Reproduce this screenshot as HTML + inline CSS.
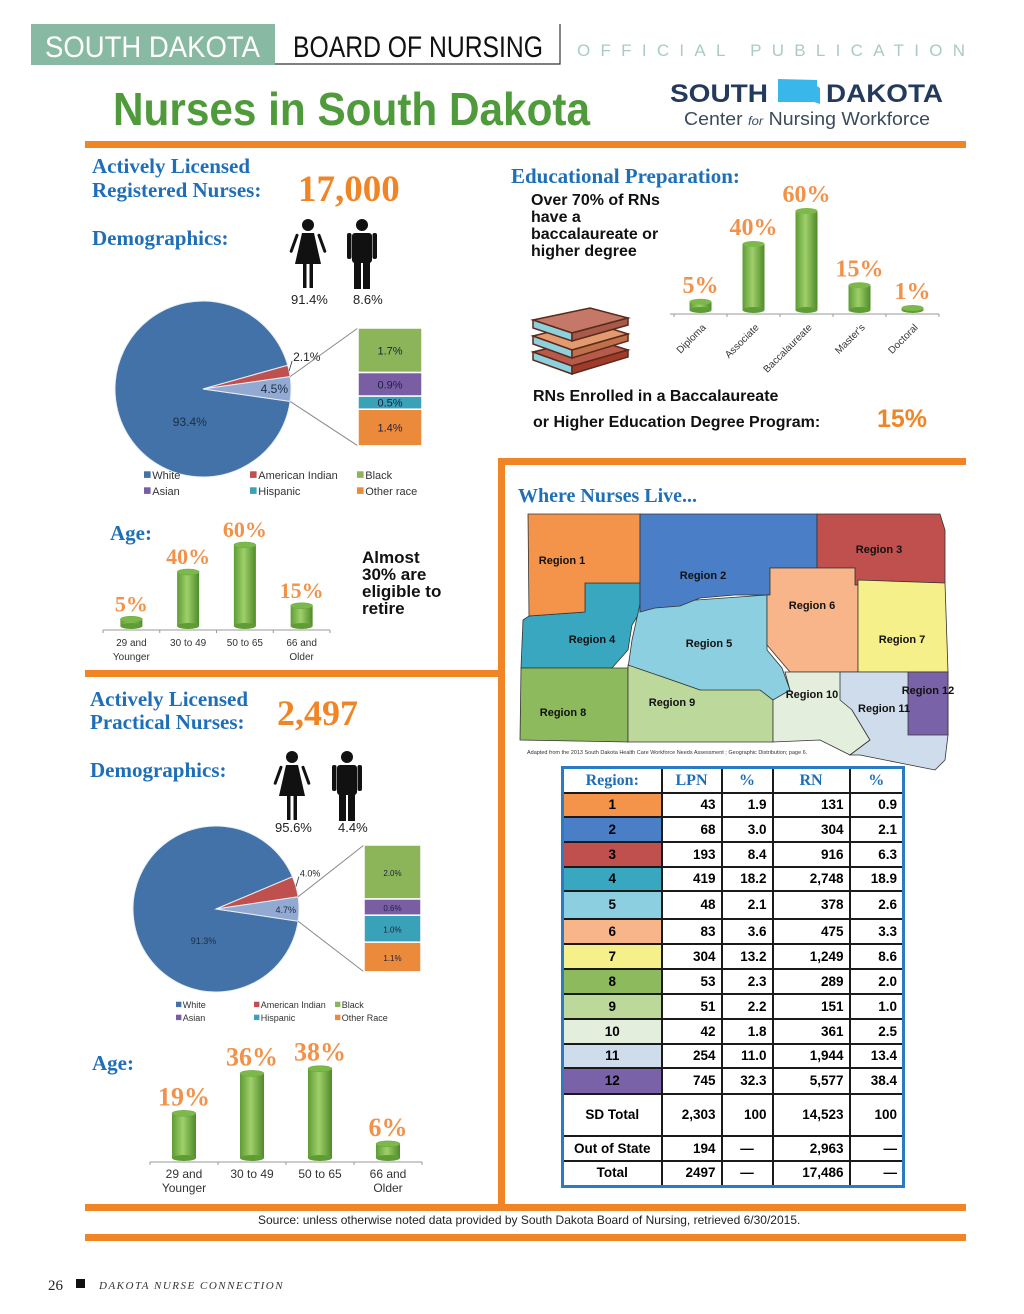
<!DOCTYPE html>
<html><head><meta charset="utf-8"><style>
html,body{margin:0;padding:0;background:#fff}
#page{position:relative;width:1024px;height:1314px;overflow:hidden;background:#fff;font-family:"Liberation Sans",sans-serif}
svg text{font-family:"Liberation Sans",sans-serif}
svg text.ser{font-family:"Liberation Serif",serif;font-weight:bold}
svg text.serif{font-family:"Liberation Serif",serif}
#tbl{position:absolute;left:561px;top:766px;border-collapse:collapse;border:3px solid #2b7bc4;font-family:"Liberation Sans",sans-serif;font-weight:bold;font-size:13.5px;table-layout:fixed;width:341px}
#tbl td{border:2px solid #1a1a1a;padding:0 5px;text-align:right;height:22px;line-height:14px;white-space:nowrap;overflow:hidden}
#tbl td.c{text-align:center;padding:0 2px}
#tbl th{border:2px solid #1a1a1a;font-family:"Liberation Serif",serif;color:#1f6fb8;font-size:16px;height:21px;text-align:center}
</style></head><body>
<div id="page">
<svg id="svg" width="1024" height="1314" viewBox="0 0 1024 1314" style="position:absolute;left:0;top:0">
<defs>
<linearGradient id="cyl" x1="0" x2="1" y1="0" y2="0"><stop offset="0" stop-color="#5f9c35"/><stop offset="0.45" stop-color="#9fd06a"/><stop offset="1" stop-color="#4f8a2a"/></linearGradient>
</defs>
<g>
<rect x="31" y="24" width="244" height="41" fill="#88b9a3"/>
<text x="45" y="57" font-size="30" fill="#fff" textLength="215" lengthAdjust="spacingAndGlyphs">SOUTH DAKOTA</text>
<path d="M275 64 H560 V24" fill="none" stroke="#333" stroke-width="1.2"/>
<text x="293" y="57" font-size="30" fill="#111" textLength="250" lengthAdjust="spacingAndGlyphs">BOARD OF NURSING</text>
<text x="577" y="56" font-size="17" fill="#a9cbc3" textLength="388" lengthAdjust="spacing">OFFICIAL PUBLICATION</text>
</g>
<text x="113" y="125" font-weight="bold" font-size="46" fill="#4f9a3a" textLength="477" lengthAdjust="spacingAndGlyphs">Nurses in South Dakota</text>
<g>
<text x="670" y="102" font-weight="bold" font-size="25" fill="#243a5c" textLength="98" lengthAdjust="spacingAndGlyphs">SOUTH</text>
<path d="M778 79 L817 80 L817 86 L820 88 L820 104 L814 102 L778 102 Z" fill="#3ab7ea"/>
<text x="826" y="102" font-weight="bold" font-size="25" fill="#243a5c" textLength="117" lengthAdjust="spacingAndGlyphs">DAKOTA</text>
<text x="684" y="125" font-size="18" fill="#3b4b5c" textLength="246" lengthAdjust="spacingAndGlyphs">Center <tspan font-style="italic" font-size="12">for</tspan> Nursing Workforce</text>
</g>
<g fill="#f08526">
<rect x="85" y="141" width="881" height="7"/>
<rect x="498" y="458" width="468" height="7"/>
<rect x="498" y="458" width="7" height="750"/>
<rect x="85" y="670" width="418" height="7"/>
<rect x="85" y="1204" width="881" height="7"/>
<rect x="85" y="1234" width="881" height="7"/>
</g>
<text class="ser" x="92" y="173" font-size="21" fill="#1f6fb8">Actively Licensed</text>
<text class="ser" x="92" y="197" font-size="21" fill="#1f6fb8">Registered Nurses:</text>
<text class="ser" x="298" y="201" font-size="37" fill="#f08526">17,000</text>
<text class="ser" x="92" y="245" font-size="21" fill="#1f6fb8">Demographics:</text>
<g id="rnPeople"></g>
<text x="291" y="304" font-size="13" fill="#222">91.4%</text>
<text x="353" y="304" font-size="13" fill="#222">8.6%</text>
<g id="pie1"></g>
<g id="leg1"></g>
<text class="ser" x="110" y="540" font-size="21" fill="#1f6fb8">Age:</text>
<g id="rnAge"></g>
<g font-weight="bold" font-size="17" fill="#111">
<text x="362" y="563">Almost</text><text x="362" y="580">30% are</text><text x="362" y="597">eligible to</text><text x="362" y="614">retire</text></g>
<text class="ser" x="90" y="706" font-size="21" fill="#1f6fb8">Actively Licensed</text>
<text class="ser" x="90" y="729" font-size="21" fill="#1f6fb8">Practical Nurses:</text>
<text class="ser" x="277" y="725" font-size="36" fill="#f08526">2,497</text>
<text class="ser" x="90" y="777" font-size="21" fill="#1f6fb8">Demographics:</text>
<g id="lpnPeople"></g>
<text x="275" y="832" font-size="13" fill="#222">95.6%</text>
<text x="338" y="832" font-size="13" fill="#222">4.4%</text>
<g id="pie2"></g>
<g id="leg2"></g>
<text class="ser" x="92" y="1070" font-size="21" fill="#1f6fb8">Age:</text>
<g id="lpnAge"></g>
<text class="ser" x="511" y="183" font-size="21" fill="#1f6fb8">Educational Preparation:</text>
<g font-weight="bold" font-size="16" fill="#111">
<text x="531" y="205">Over 70% of RNs</text><text x="531" y="222">have a</text><text x="531" y="239">baccalaureate or</text><text x="531" y="256">higher degree</text></g>
<g id="edu"></g>
<g stroke="#5a2a1a" stroke-width="1.5">
<path d="M533 352 L590 338 L628 350 L572 366 Z" fill="#b85a4a"/>
<path d="M533 352 L572 366 L572 374 L533 360 Z" fill="#8fd0df"/>
<path d="M572 366 L628 350 L628 357 L572 374 Z" fill="#a03a2a"/>
<path d="M533 336 L590 322 L628 334 L572 350 Z" fill="#e39a6e"/>
<path d="M533 336 L572 350 L572 358 L533 344 Z" fill="#8fd0df"/>
<path d="M572 350 L628 334 L628 341 L572 358 Z" fill="#c0704a"/>
<path d="M533 320 L590 308 L628 318 L572 333 Z" fill="#c57868"/>
<path d="M533 320 L572 333 L572 341 L533 328 Z" fill="#8fd0df"/>
<path d="M572 333 L628 318 L628 325 L572 341 Z" fill="#a85a4a"/>
</g>
<g font-weight="bold" font-size="16" fill="#111">
<text x="533" y="401">RNs Enrolled in a Baccalaureate</text>
<text x="533" y="427">or Higher Education Degree Program:</text></g>
<text x="877" y="427" font-size="25" font-weight="bold" fill="#f08526">15%</text>
<text class="ser" x="518" y="502" font-size="20" fill="#1f6fb8">Where Nurses Live...</text>
<g id="map"></g>
<text x="527" y="754" font-size="5.5" fill="#333">Adapted from the 2013 South Dakota Health Care Workforce Needs Assessment ; Geographic Distribution; page 6.</text>
<text x="258" y="1224" font-size="12" fill="#222">Source: unless otherwise noted data provided by South Dakota Board of Nursing, retrieved 6/30/2015.</text>
<text class="serif" x="48" y="1290" font-size="15" fill="#222">26</text>
<rect x="76" y="1279" width="9" height="9" fill="#111"/>
<text class="serif" x="99" y="1289" font-style="italic" font-size="11" fill="#333" letter-spacing="1.5">DAKOTA NURSE CONNECTION</text>
</svg>
<table id="tbl"></table>
</div>
<script>
const rnAgeCats=['29 and|Younger','30 to 49','50 to 65','66 and|Older'];
const rnAgeVals=[5,40,60,15];
const lpnAgeCats=['29 and|Younger','30 to 49','50 to 65','66 and|Older'];
const lpnAgeVals=[19,36,38,6];
const eduCats=['Diploma','Associate','Baccalaureate',"Master's",'Doctoral'];
const eduVals=[5,40,60,15,1];
const raceLegend=['White','American Indian','Black','Asian','Hispanic','Other race'];
const rnPieVals=[93.4,2.1,4.5];
const rnOtherVals=[1.7,0.9,0.5,1.4];
const lpnPieVals=[91.3,4.0,4.7];
const lpnOtherVals=[2.0,0.6,1.0,1.1];
const regions=['1','2','3','4','5','6','7','8','9','10','11','12'];
const lpnCounts=['43','68','193','419','48','83','304','53','51','42','254','745'];
const lpnPct=['1.9','3.0','8.4','18.2','2.1','3.6','13.2','2.3','2.2','1.8','11.0','32.3'];
const rnCounts=['131','304','916','2,748','378','475','1,249','289','151','361','1,944','5,577'];
const rnPct=['0.9','2.1','6.3','18.9','2.6','3.3','8.6','2.0','1.0','2.5','13.4','38.4'];
const summaryRows=[['SD Total','2,303','100','14,523','100'],['Out of State','194','—','2,963','—'],['Total','2497','—','17,486','—']];

const NS='http://www.w3.org/2000/svg';
function mk(parent,tag,attrs){const e=document.createElementNS(NS,tag);for(const k in attrs)e.setAttribute(k,attrs[k]);parent.appendChild(e);return e;}
const regionColors=['#f4944a','#4a7fc7','#c0504d','#3aa7c0','#8ccfe0','#f9b58a','#f6f08a','#8cba5c','#bcd89a','#e4eedc','#cfdcec','#7a62a8'];
const pieColors=['#4272a8','#c0504d','#92aad2'];
const otherColors=['#8cb55a','#7a5ea4','#3aa2b8','#ec8a3c'];

function barChart(g,cats,vals,x0,x1,baseY,pxPer,barW,lblSize,catSize){
  const n=cats.length, step=(x1-x0)/n;
  mk(g,'line',{x1:x0,x2:x1,y1:baseY+4,y2:baseY+4,stroke:'#999','stroke-width':1});
  for(let i=0;i<=n;i++) mk(g,'line',{x1:x0+i*step,x2:x0+i*step,y1:baseY+4,y2:baseY+7,stroke:'#999'});
  vals.forEach((v,i)=>{
    const cx=x0+step*(i+0.5), h=v*pxPer, top=baseY-h;
    const b=mk(g,'g',{});
    
    
    mk(b,'rect',{x:cx-barW/2,y:top,width:barW,height:h,fill:'url(#cyl)'});
    mk(b,'ellipse',{cx:cx,cy:baseY,rx:barW/2,ry:3,fill:'#5f9c35'});
    mk(b,'ellipse',{cx:cx,cy:top,rx:barW/2,ry:3,fill:'#7cb84a',stroke:'#6aa540','stroke-width':0.5});
    const t=mk(g,'text',{x:cx,y:top-8,'text-anchor':'middle','class':'ser','font-size':lblSize,fill:'#f2924a'});
    t.textContent=v+'%';
    
    
    const parts=cats[i].split('|');
    parts.forEach((p,j)=>{const c=mk(g,'text',{x:cx,y:baseY+20+j*14,'text-anchor':'middle','font-size':catSize,fill:'#333'});c.textContent=p;
      
      });
  });
}
barChart(document.getElementById('rnAge'),rnAgeCats,rnAgeVals,103,330,626,1.35,22,22,10);
barChart(document.getElementById('lpnAge'),lpnAgeCats,lpnAgeVals,150,422,1158,2.35,24,26,12);

(function(){
  const g=document.getElementById('edu'); const x0=678,x1=943,baseY=310,pxPer=1.65,barW=22;
  const n=eduCats.length, step=(x1-x0)/n;
  mk(g,'line',{x1:x0-8,x2:x1-4,y1:baseY+4,y2:baseY+4,stroke:'#999'});
  for(let i=0;i<=n;i++) mk(g,'line',{x1:x0-4+i*step,x2:x0-4+i*step,y1:baseY+4,y2:baseY+7,stroke:'#999'});
  eduVals.forEach((v,i)=>{
    const cx=x0+step*(i+0.5)-4, h=Math.max(v*pxPer,2), top=baseY-h;
    const b=mk(g,'g',{});
    
    
    mk(b,'rect',{x:cx-barW/2,y:top,width:barW,height:h,fill:'url(#cyl)'});
    mk(b,'ellipse',{cx:cx,cy:baseY,rx:barW/2,ry:3,fill:'#5f9c35'});
    mk(b,'ellipse',{cx:cx,cy:top,rx:barW/2,ry:3,fill:'#7cb84a'});
    const t=mk(g,'text',{x:cx,y:top-9,'text-anchor':'middle','class':'ser','font-size':24,fill:'#f2924a'});
    t.textContent=v+'%';
    
    
    const c=mk(g,'text',{x:cx+6,y:baseY+18,'text-anchor':'end','font-size':10,fill:'#333',transform:`rotate(-45 ${cx+6} ${baseY+18})`});
    c.textContent=eduCats[i];
    
    
  });
})();

function pie(g,cx,cy,r,vals,others,barX,barTop,barW,pxPer,fs){
  const deg=v=>v*3.6*Math.PI/180;
  const a0=-deg(vals[2])/2, a1=deg(vals[2])/2, aR=a0-deg(vals[1]);
  const P=a=>[cx+r*Math.cos(a),cy+r*Math.sin(a)];
  function slice(s,e,col,nm){const p1=P(s),p2=P(e);const large=(e-s)>Math.PI?1:0;
    const el=mk(g,'path',{d:`M${cx} ${cy} L${p1[0]} ${p1[1]} A${r} ${r} 0 ${large} 1 ${p2[0]} ${p2[1]} Z`,fill:col,stroke:'#e8eef6','stroke-width':1});
    
    }
  slice(a1,aR+2*Math.PI,pieColors[0],'slice-white');
  slice(aR,a0,pieColors[1],'slice-american-indian');
  slice(a0,a1,pieColors[2],'slice-other');
  const tw=mk(g,'text',{x:cx-r*0.15,y:cy+r*0.42,'text-anchor':'middle','font-size':fs,fill:'#1d2d44'});tw.textContent=vals[0].toFixed(1)+'%';
  const pr=P((aR+a0)/2);
  const tr=mk(g,'text',{x:pr[0]+4,y:pr[1]-10,'font-size':fs,fill:'#222'});tr.textContent=vals[1].toFixed(1)+'%';
  mk(g,'line',{x1:pr[0],y1:pr[1],x2:pr[0]+3,y2:pr[1]-10,stroke:'#333','stroke-width':0.8});
  const to=mk(g,'text',{x:cx+r-3,y:cy+4,'text-anchor':'end','font-size':fs,fill:'#1d2d44'});to.textContent=vals[2].toFixed(1)+'%';
  const total=others.reduce((a,b)=>a+b,0);
  const pt=P(a0),pb=P(a1);
  mk(g,'line',{x1:pt[0],y1:pt[1],x2:barX,y2:barTop,stroke:'#888'});
  mk(g,'line',{x1:pb[0],y1:pb[1],x2:barX,y2:barTop+total*pxPer,stroke:'#888'});
  let y=barTop;
  others.forEach((v,i)=>{const h=v*pxPer;
    const rr=mk(g,'rect',{x:barX,y:y,width:barW,height:h,fill:otherColors[i],stroke:'#fff','stroke-width':1.5});
    
    
    const t=mk(g,'text',{x:barX+barW/2,y:y+h/2+4,'text-anchor':'middle','font-size':fs-1,fill:'#1d2040'});t.textContent=v.toFixed(1)+'%';
    y+=h;});
}
pie(document.getElementById('pie1'),203,389,88,rnPieVals,rnOtherVals,358,328,64,26.2,12);
pie(document.getElementById('pie2'),216,909,83,lpnPieVals,lpnOtherVals,364,845,57,27,9);

function legend(g,xs,ys,fs,labels){
  const cols=['#4272a8','#c0504d','#8cb55a','#7a5ea4','#3aa2b8','#ec8a3c'];
  labels.forEach((l,i)=>{const x=xs[i%3],y=ys[Math.floor(i/3)];
    mk(g,'rect',{x:x,y:y-fs*0.7,width:fs*0.6,height:fs*0.6,fill:cols[i]});
    const t=mk(g,'text',{x:x+fs*0.75,y:y,'font-size':fs,fill:'#333'});t.textContent=l;
    
    });
}
legend(document.getElementById('leg1'),[144,250,357],[479,495],11,raceLegend);
legend(document.getElementById('leg2'),[176,254,335],[1008,1021],9,['White','American Indian','Black','Asian','Hispanic','Other Race']);

function person(g,x,y,s,female){
  const gg=mk(g,'g',{fill:'#111'});
  
  
  mk(gg,'circle',{cx:x,cy:y+6*s,r:6*s});
  if(female){
    mk(gg,'path',{d:`M${x-6*s} ${y+14*s} H${x+6*s} L${x+13*s} ${y+45*s} H${x-13*s} Z`});
    mk(gg,'rect',{x:x-12*s,y:y+15*s,width:3*s,height:20*s,rx:1.5*s,transform:`rotate(20 ${x-10*s} ${y+15*s})`});
    mk(gg,'rect',{x:x+9*s,y:y+15*s,width:3*s,height:20*s,rx:1.5*s,transform:`rotate(-20 ${x+10*s} ${y+15*s})`});
    mk(gg,'rect',{x:x-5*s,y:y+45*s,width:3.5*s,height:24*s});
    mk(gg,'rect',{x:x+1.5*s,y:y+45*s,width:3.5*s,height:24*s});
  } else {
    mk(gg,'rect',{x:x-10*s,y:y+14*s,width:20*s,height:30*s,rx:3*s});
    mk(gg,'rect',{x:x-15*s,y:y+14*s,width:4.5*s,height:26*s,rx:2*s});
    mk(gg,'rect',{x:x+10.5*s,y:y+14*s,width:4.5*s,height:26*s,rx:2*s});
    mk(gg,'rect',{x:x-8*s,y:y+42*s,width:7*s,height:28*s});
    mk(gg,'rect',{x:x+1*s,y:y+42*s,width:7*s,height:28*s});
  }
}
person(document.getElementById('rnPeople'),308,219,1.0,true);
person(document.getElementById('rnPeople'),362,219,1.0,false);
person(document.getElementById('lpnPeople'),292,751,1.0,true);
person(document.getElementById('lpnPeople'),347,751,1.0,false);

(function(){
  const g=document.getElementById('map');
  const polys=[
   [3,'521,668 523,620 529,616 585,612 585,583 640,583 640,612 632,625 628,650 612,668'],
   [4,'640,604 767,595 767,650 782,668 790,690 780,705 700,690 660,676 628,668 632,640'],
   [0,'528,514 640,514 640,583 585,583 585,612 529,616'],
   [1,'640,514 817,514 817,568 770,568 770,595 735,595 700,598 680,606 655,608 640,612'],
   [2,'817,514 940,514 945,530 945,585 855,585 855,568 817,568'],
   [5,'770,568 855,568 855,585 858,585 858,672 790,672 778,658 767,645 767,595 770,595'],
   [6,'858,580 945,583 948,672 858,672'],
   [7,'521,668 628,668 628,742 520,740'],
   [8,'628,665 660,676 700,690 760,690 773,700 773,742 628,742'],
   [9,'773,700 790,690 785,672 858,672 860,700 852,710 870,740 850,755 820,740 773,742'],
   [10,'840,672 948,672 948,735 945,760 935,770 860,755 850,755 870,740 852,710 840,700'],
   [11,'908,672 948,672 948,735 908,735']];
  polys.forEach(([i,pts])=>{const p=mk(g,'polygon',{points:pts,fill:regionColors[i],stroke:'#333','stroke-width':0.8});
    
    });
  const lbl=[[562,564],[703,579],[879,553],[592,643],[709,647],[812,609],[902,643],[563,716],[672,706],[812,698],[884,712],[928,694]];
  lbl.forEach(([x,y],i)=>{const t=mk(g,'text',{x:x,y:y,'text-anchor':'middle','font-weight':'bold','font-size':11,fill:'#111'});t.textContent='Region '+regions[i];});
})();

(function(){
  const t=document.getElementById('tbl');
  let h='<colgroup><col style="width:99px"><col style="width:60px"><col style="width:51px"><col style="width:77px"><col style="width:54px"></colgroup>';
  h+='<tr><th>Region:</th><th>LPN</th><th>%</th><th>RN</th><th>%</th></tr>';
  const hs=[21,23,23,21,26,23,23,23,23,23,22,24];
  regions.forEach((r,i)=>{h+=`<tr style="height:${hs[i]+2}px"><td class="c" style="background:${regionColors[i]}">${r}</td><td>${lpnCounts[i]}</td><td>${lpnPct[i]}</td><td>${rnCounts[i]}</td><td>${rnPct[i]}</td></tr>`;});
  const sh=[40,23,23];
  summaryRows.forEach((r,i)=>{h+=`<tr style="height:${sh[i]+2}px"><td class="c">${r[0]}</td><td>${r[1]}</td><td style="text-align:${r[2]=='—'?'center':'right'}">${r[2]}</td><td>${r[3]}</td><td>${r[4]}</td></tr>`;});
  t.innerHTML=h;
})();
</script>
</body></html>
